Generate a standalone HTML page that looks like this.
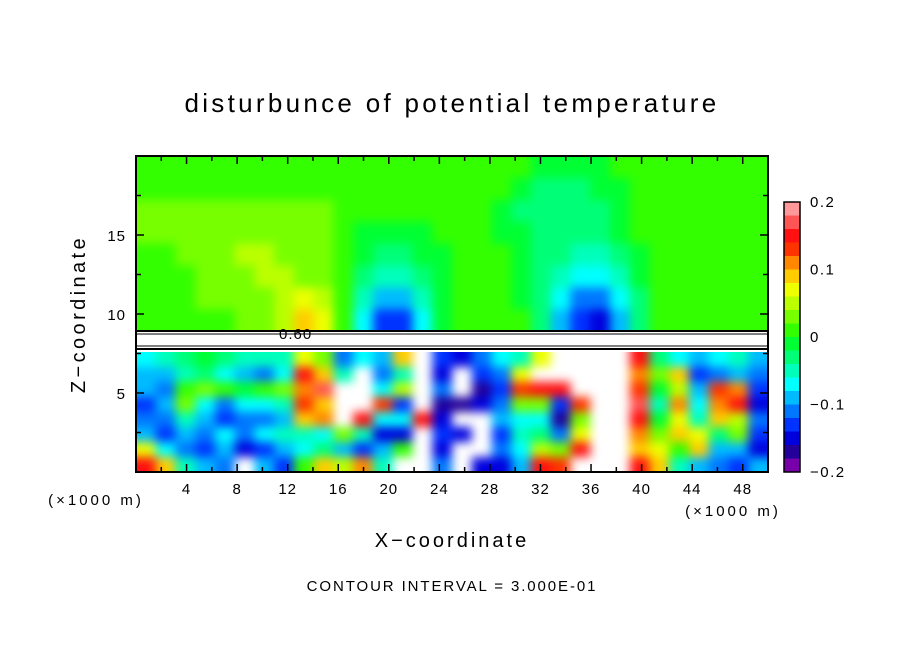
<!DOCTYPE html>
<html><head><meta charset="utf-8">
<style>
html,body{margin:0;padding:0;background:#fff;width:904px;height:654px;overflow:hidden;position:relative}
svg{display:block}
text{font-family:"Liberation Sans",sans-serif;fill:#000}
.field{position:absolute;overflow:hidden;z-index:0}
.field svg{position:absolute;left:-12px;top:-12px;filter:blur(5px)}
#chart{position:absolute;left:0;top:0;z-index:1}
</style></head>
<body>
<div class="field" id="upWrap" style="left:136px;top:156px;width:632px;height:175px">
  <svg id="upperCells" width="656" height="199"></svg>
</div>
<div class="field" id="loWrap" style="left:136px;top:352px;width:632px;height:120px">
  <svg id="lowerCells" width="656" height="144"></svg>
</div>
<svg id="chart" width="904" height="654">
  <text x="452" y="112" font-size="26" letter-spacing="3.3" text-anchor="middle">disturbunce of potential temperature</text>
  <g>
    <rect x="136" y="331" width="632" height="21" fill="#fff"/>
    <line x1="136" y1="331" x2="768" y2="331" stroke="#000" stroke-width="2"/>
    <line x1="136" y1="334" x2="768" y2="334" stroke="#000" stroke-width="1"/>
    <line x1="136" y1="346" x2="768" y2="346" stroke="#000" stroke-width="1"/>
    <line x1="136" y1="349" x2="768" y2="349" stroke="#000" stroke-width="2"/>
    <text x="279" y="339" font-size="15" letter-spacing="1">0.60</text>
  </g>
  <rect x="136" y="156" width="632" height="316" fill="none" stroke="#000" stroke-width="2"/>
  <g id="ticks"></g>
  <text x="85" y="314" font-size="20" letter-spacing="3.4" text-anchor="middle" transform="rotate(-90 85 314)">Z−coordinate</text>
  <text x="452" y="547" font-size="20" letter-spacing="3" text-anchor="middle">X−coordinate</text>
  <text x="96" y="505" font-size="15" letter-spacing="3" text-anchor="middle">(×1000 m)</text>
  <text x="733" y="516" font-size="15" letter-spacing="3" text-anchor="middle">(×1000 m)</text>
  <text x="452" y="591" font-size="15" letter-spacing="1.9" text-anchor="middle">CONTOUR INTERVAL = 3.000E-01</text>
  <g id="cbar"></g>
</svg>
<script>
// data (values in units of 0.01; |v|>=20 drawn white = out of range)
const xTicks=[4,8,12,16,20,24,28,32,36,40,44,48];
const zTicks=[5,10,15];
const cbarTicks=[0.2,0.1,0,-0.1,-0.2];
const cbarLabels=["0.2","0.1","0","−0.1","−0.2"];
const bandColors=["#ff9999","#ff5555","#ff1111","#ff3300","#ff8800","#ffcc00","#eeff00","#bbff00","#77ff00","#33ff00","#00ff33","#00ff77","#00ffbb","#00ffff","#00bbff","#0077ff","#0033ff","#0000dd","#220099","#7700aa"];
const upperRows=[
[1,1,1,1,1,1,1,1,1,1,1,1,1,1,1,1,1,1,1,1,-1,-1,-1,-1,1,1,1,1,1,1,1,1],
[1,1,1,1,1,1,1,1,1,1,1,1,1,1,1,1,1,1,1,-1,-3,-3,-3,-1,-1,1,1,1,1,1,1,1],
[3,3,3,3,3,3,3,3,3,3,1,1,1,1,1,1,1,1,-1,-3,-3,-3,-3,-3,-1,1,1,1,1,1,1,1],
[3,3,3,3,3,3,3,3,3,3,1,-1,-1,-1,-1,1,1,1,-1,-1,-3,-3,-3,-3,-1,1,1,1,1,1,1,1],
[1,1,3,3,3,5,5,3,3,3,1,-1,-3,-3,-1,-1,1,1,1,-1,-3,-3,-5,-5,-3,-1,1,1,1,1,1,1],
[1,1,1,3,3,3,5,5,3,3,1,-3,-5,-5,-3,-1,1,1,1,-1,-3,-5,-7,-7,-5,-1,1,1,1,1,1,1],
[1,1,1,3,3,3,3,5,7,5,1,-5,-9,-9,-5,-1,1,1,1,-1,-3,-7,-11,-11,-7,-3,1,1,1,1,1,1],
[1,1,1,1,1,3,3,5,9,7,1,-7,-13,-13,-7,-1,1,1,1,1,-3,-9,-13,-15,-9,-3,1,1,1,1,1,1]];
// lower field: one array per column, top (z~7.1) to bottom (z~0.5)
const lowerCols=[
[-6,-8,-8,-12,-10,-8,8,15],[-4,-8,-10,-8,-10,-12,-6,10],[-2,-4,2,4,-4,-8,-10,-4],[0,-2,4,-6,-8,-10,-12,-8],
[-2,-6,2,-10,-12,-6,-8,-10],[-4,-8,0,-6,-10,-10,-14,-99],[-4,-10,2,-6,-10,-6,-12,-8],[-4,-6,4,-4,-8,-4,-8,-12],
[8,16,12,14,10,-4,-6,2],[4,10,18,10,12,-6,-2,10],[-10,-4,99,99,99,4,-8,6],[-6,99,99,99,16,-4,-12,12],
[-8,-10,-6,14,-6,-14,-8,-4],[10,-4,6,-12,-6,-14,2,99],[99,99,99,99,16,99,99,99],[-12,-14,-10,-16,-14,-12,-14,-10],
[-14,-99,-99,-16,-99,-14,-99,-99],[-10,-12,-16,-14,-99,-99,99,-14],[-6,-10,-12,-10,-8,-12,-10,-14],[-4,8,14,4,-6,-4,-6,-8],
[8,99,16,4,-6,-2,6,16],[99,99,16,-12,-16,-10,4,14],[99,99,99,14,4,8,16,99],[99,99,99,99,99,99,99,99],
[99,99,99,99,99,99,99,99],[16,12,14,18,16,12,10,16],[-2,4,0,-4,0,4,8,10],[-6,10,6,12,8,10,2,-4],
[-8,-12,-8,-6,-4,8,10,-8],[-6,-10,14,12,10,-2,-8,-10],[-4,-8,12,16,6,4,-8,-12],[-8,-10,-12,-14,-10,-12,-14,-8]];

const NS="http://www.w3.org/2000/svg";
const X0=136,X1=768,Y0=472,Y1=156,XMAX=50,ZMAX=20;
const xs=x=>X0+(X1-X0)*x/XMAX;
const zs=z=>Y0-(Y0-Y1)*z/ZMAX;
const CB_TOP=202,CB_BOT=472;
const cs=v=>CB_BOT-(CB_BOT-CB_TOP)*(v+0.2)/0.4;
function color(v){const val=v/100;if(val>=0.2||val<=-0.2)return "#ffffff";let i=Math.floor((0.2-val)/0.02);i=Math.max(0,Math.min(19,i));return bandColors[i];}
function mk(tag,attrs,parent){const e=document.createElementNS(NS,tag);for(const k in attrs)e.setAttribute(k,attrs[k]);parent.appendChild(e);return e;}
const PAD=12;
// draw a cell in a field svg whose origin is (ox,oy) in page coords; edge cells extended by PAD
function cell(parent,px0,py0,px1,py1,ox,oy,w,h,fill){
  let a=px0-ox+PAD,b=py0-oy+PAD,c=px1-ox+PAD,d=py1-oy+PAD;
  if(a<=PAD+0.5)a=0; if(b<=PAD+0.5)b=0; if(c>=w+PAD-0.5)c=w+2*PAD; if(d>=h+PAD-0.5)d=h+2*PAD;
  return mk('rect',{x:a,y:b,width:c-a+0.5,height:d-b+0.5,fill:fill},parent);
}
const up=document.getElementById('upperCells');
const nU=upperRows.length, zUlo=8.9, zUhi=20;
upperRows.forEach((row,r)=>{const zt=zUhi-(zUhi-zUlo)*r/nU, zb=zUhi-(zUhi-zUlo)*(r+1)/nU;
  row.forEach((v,c)=>{const xa=XMAX*c/row.length, xb=XMAX*(c+1)/row.length;
    const el=cell(up,xs(xa),zs(zt),xs(xb),zs(zb),136,156,632,175,color(v));
    
    
  });});
const lo=document.getElementById('lowerCells');
const zLhi=7.6;
lowerCols.forEach((col,c)=>{const xa=XMAX*c/lowerCols.length, xb=XMAX*(c+1)/lowerCols.length;
  col.forEach((v,r)=>{const zt=zLhi-zLhi*r/col.length, zb=zLhi-zLhi*(r+1)/col.length;
    const el=cell(lo,xs(xa),zs(zt),xs(xb),zs(zb),136,352,632,120,color(v));
    
    
  });});

const tk=document.getElementById('ticks');
for(let x=2;x<XMAX;x+=2){const big=x%4===0;
  mk('line',{x1:xs(x),y1:Y0,x2:xs(x),y2:Y0-(big?8:5),stroke:'#000','stroke-width':1.5},tk);
  mk('line',{x1:xs(x),y1:Y1,x2:xs(x),y2:Y1+(big?8:5),stroke:'#000','stroke-width':1.5},tk);}
for(let z=2.5;z<ZMAX;z+=2.5){const big=z%5===0;
  mk('line',{x1:X0,y1:zs(z),x2:X0+(big?8:5),y2:zs(z),stroke:'#000','stroke-width':1.5},tk);
  mk('line',{x1:X1,y1:zs(z),x2:X1-(big?8:5),y2:zs(z),stroke:'#000','stroke-width':1.5},tk);}
xTicks.forEach(x=>{const t=mk('text',{x:xs(x),y:494,'font-size':15,'letter-spacing':1,'text-anchor':'middle'},tk);t.textContent=x;
  
  });
zTicks.forEach(z=>{const t=mk('text',{x:126,y:zs(z)+6,'font-size':15,'letter-spacing':1,'text-anchor':'end'},tk);t.textContent=z;
  
  });

const cb=document.getElementById('cbar');
bandColors.forEach((col,i)=>{const vt=0.2-0.02*i, vb=vt-0.02;
  const el=mk('rect',{x:784,y:cs(vt),width:16,height:cs(vb)-cs(vt)+0.3,fill:col},cb);
  
  });
mk('rect',{x:784,y:CB_TOP,width:16,height:CB_BOT-CB_TOP,fill:'none',stroke:'#000','stroke-width':1.5},cb);
cbarTicks.forEach((v,i)=>{const t=mk('text',{x:810,y:cs(v)+5,'font-size':15,'letter-spacing':1.5},cb);t.textContent=cbarLabels[i];
  
  });
</script>
</body></html>
